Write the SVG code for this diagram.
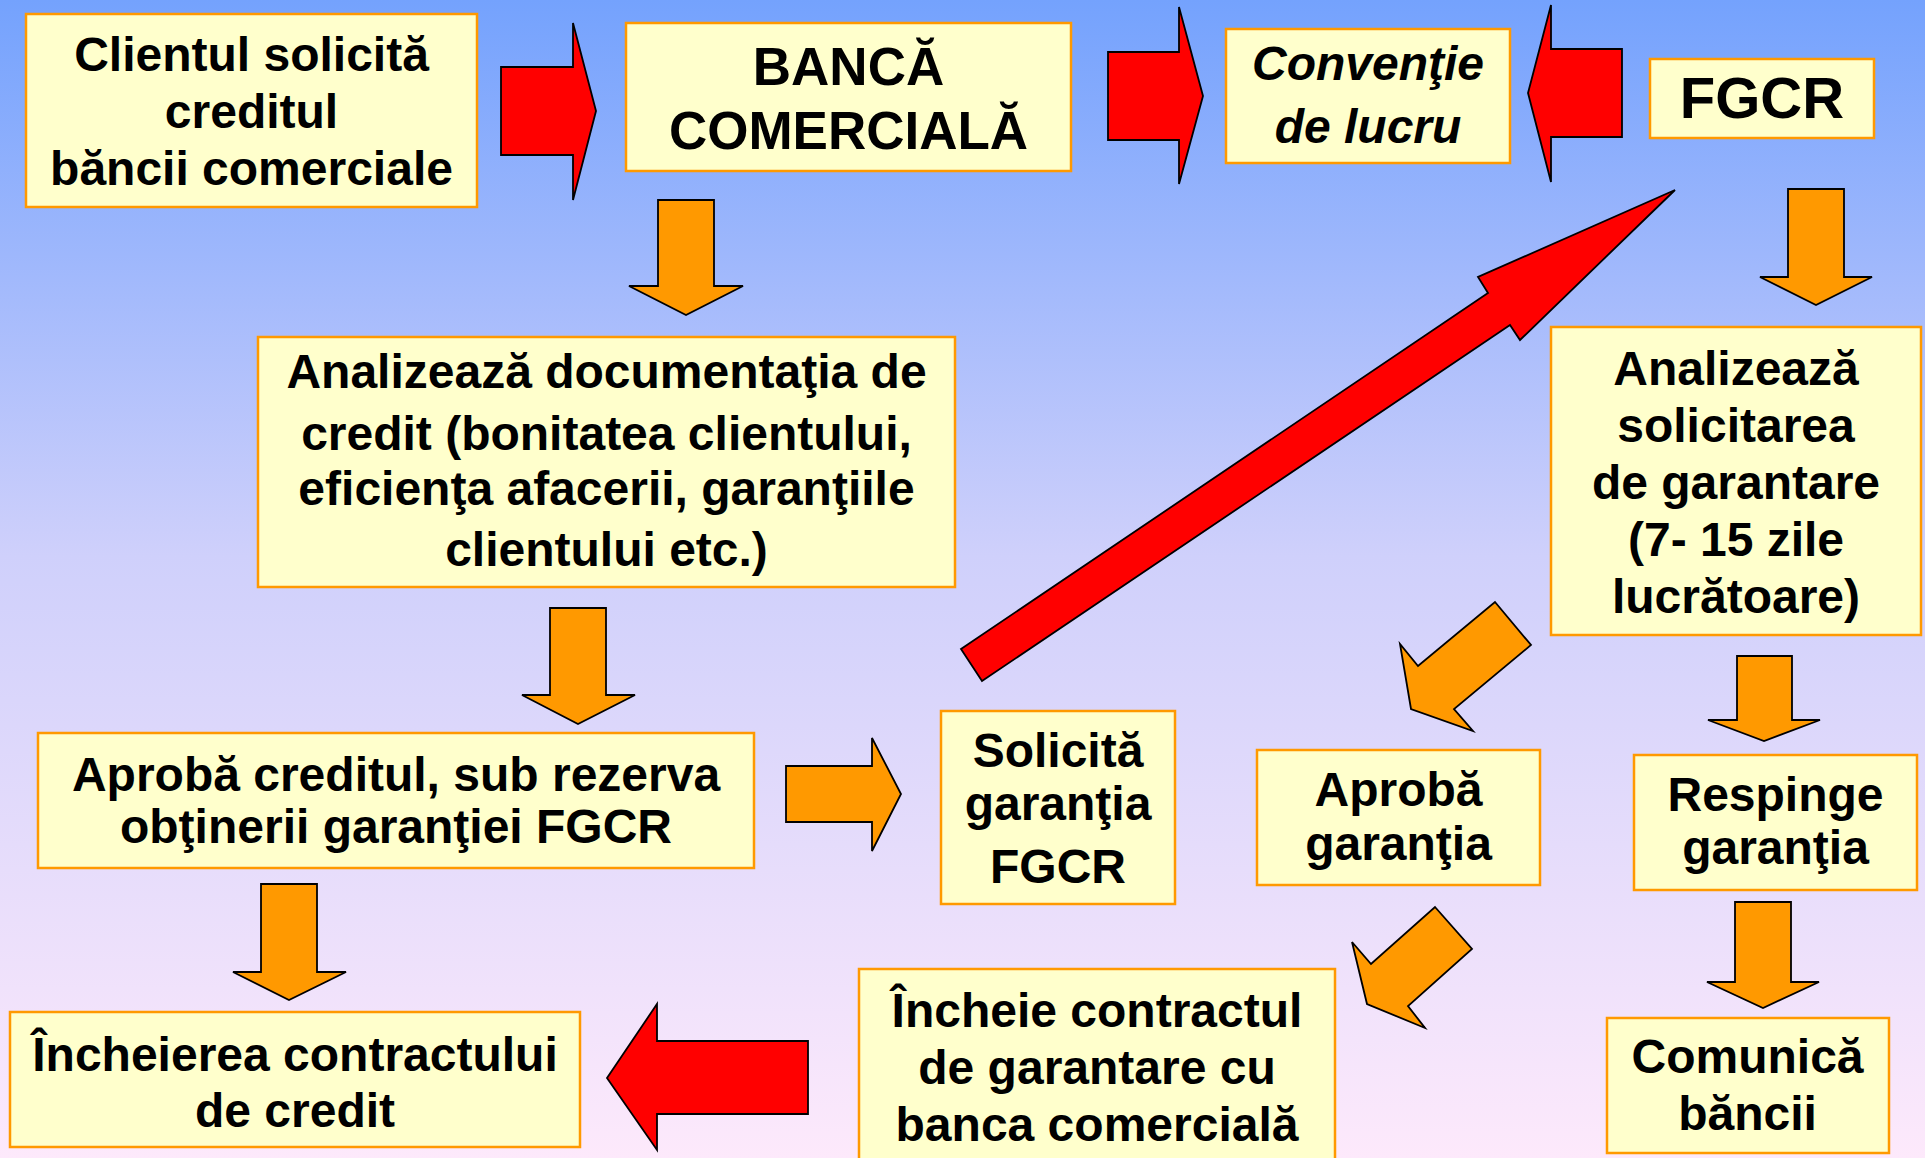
<svg xmlns="http://www.w3.org/2000/svg" width="1925" height="1158" viewBox="0 0 1925 1158">
<defs>
<linearGradient id="bg" x1="0" y1="0" x2="0" y2="1">
<stop offset="0" stop-color="#74A2FD"/>
<stop offset="0.48" stop-color="#CFD0FB"/>
<stop offset="1" stop-color="#FDE9FB"/>
</linearGradient>
<style>
.box{fill:#FFFFCC;stroke:#FF9900;stroke-width:2.5}
.t{font-family:"Liberation Sans",Arial,sans-serif;font-weight:bold;font-size:48px;fill:#000;text-anchor:middle}
.it{font-style:italic}
.red{fill:#FF0000;stroke:#000;stroke-width:1.8;stroke-linejoin:miter}
.org{fill:#FF9900;stroke:#000;stroke-width:1.8;stroke-linejoin:miter}
</style>
</defs>
<rect x="0" y="0" width="1925" height="1158" fill="url(#bg)"/>

<g id="connectors">
<polygon class="red" points="501,67 573,67 573,23 596,111 573,200 573,155 501,155"/>
<polygon class="red" points="1108,52 1179,52 1179,7 1203,96 1179,184 1179,140 1108,140"/>
<polygon class="red" points="1622,49 1551,49 1551,5 1528,93 1551,182 1551,137 1622,137"/>
<polygon class="red" points="961,649 1488,293 1478,277 1675,190 1520,340 1510,325 982,681"/>
<polygon class="red" points="808,1041 657,1041 657,1004 607,1078 657,1150 657,1114 808,1114"/>
<polygon class="org" points="658,200 714,200 714,286 743,286 686,315 629,286 658,286"/>
<polygon class="org" points="1788,189 1844,189 1844,277 1872,277 1816,305 1760,277 1788,277"/>
<polygon class="org" points="550,608 606,608 606,695 635,695 578,724 522,695 550,695"/>
<polygon class="org" points="786,766 872,766 872,738 901,794 872,851 872,822 786,822"/>
<polygon class="org" points="261,884 317,884 317,972 346,972 289,1000 233,972 261,972"/>
<polygon class="org" points="1737,656 1792,656 1792,720 1820,720 1764,741 1708,720 1737,720"/>
<polygon class="org" points="1735,902 1791,902 1791,982 1819,982 1763,1008 1707,982 1735,982"/>
<polygon class="org" points="1495,602 1531,645 1454,709 1473,731 1411,709 1400,644 1418,666"/>
<polygon class="org" points="1435,907 1472,949 1408,1006 1425,1028 1367,1004 1352,942 1371,964"/>
</g>

<g id="n-client">
<rect class="box" x="26" y="14" width="451" height="193"/>
<text class="t" x="251.5" y="71">Clientul solicită</text>
<text class="t" x="251.5" y="128">creditul</text>
<text class="t" x="251.5" y="185">băncii comerciale</text>
</g>
<g id="n-banca">
<rect class="box" x="626" y="23" width="445" height="148"/>
<text class="t" x="848.5" y="85" style="font-size:53px">BANCĂ</text>
<text class="t" x="848.5" y="149" style="font-size:53px">COMERCIALĂ</text>
</g>
<g id="n-conventie">
<rect class="box" x="1226" y="29" width="284" height="134"/>
<text class="t it" x="1368" y="80">Convenţie</text>
<text class="t it" x="1368" y="143">de lucru</text>
</g>
<g id="n-fgcr">
<rect class="box" x="1650" y="59" width="224" height="79"/>
<text class="t" x="1762" y="118" style="font-size:58px">FGCR</text>
</g>
<g id="n-analiza-doc">
<rect class="box" x="258" y="337" width="697" height="250"/>
<text class="t" x="606.5" y="388">Analizează documentaţia de</text>
<text class="t" x="606.5" y="450">credit (bonitatea clientului,</text>
<text class="t" x="606.5" y="505">eficienţa afacerii, garanţiile</text>
<text class="t" x="606.5" y="566">clientului etc.)</text>
</g>
<g id="n-analiza-sol">
<rect class="box" x="1551" y="327" width="370" height="308"/>
<text class="t" x="1736" y="385">Analizează</text>
<text class="t" x="1736" y="442">solicitarea</text>
<text class="t" x="1736" y="499">de garantare</text>
<text class="t" x="1736" y="556">(7- 15 zile</text>
<text class="t" x="1736" y="613">lucrătoare)</text>
</g>
<g id="n-aproba-credit">
<rect class="box" x="38" y="733" width="716" height="135"/>
<text class="t" x="396" y="791">Aprobă creditul, sub rezerva</text>
<text class="t" x="396" y="843">obţinerii garanţiei FGCR</text>
</g>
<g id="n-solicita">
<rect class="box" x="941" y="711" width="234" height="193"/>
<text class="t" x="1058" y="767">Solicită</text>
<text class="t" x="1058" y="820">garanţia</text>
<text class="t" x="1058" y="883">FGCR</text>
</g>
<g id="n-aproba-gar">
<rect class="box" x="1257" y="750" width="283" height="135"/>
<text class="t" x="1398.5" y="806">Aprobă</text>
<text class="t" x="1398.5" y="860">garanţia</text>
</g>
<g id="n-respinge">
<rect class="box" x="1634" y="755" width="283" height="135"/>
<text class="t" x="1775.5" y="811">Respinge</text>
<text class="t" x="1775.5" y="864">garanţia</text>
</g>
<g id="n-incheierea">
<rect class="box" x="10" y="1012" width="570" height="135"/>
<text class="t" x="295" y="1071">Încheierea contractului</text>
<text class="t" x="295" y="1127">de credit</text>
</g>
<g id="n-incheie">
<rect class="box" x="859" y="969" width="476" height="200"/>
<text class="t" x="1097" y="1027">Încheie contractul</text>
<text class="t" x="1097" y="1084">de garantare cu</text>
<text class="t" x="1097" y="1141">banca comercială</text>
</g>
<g id="n-comunica">
<rect class="box" x="1607" y="1018" width="282" height="135"/>
<text class="t" x="1747.5" y="1073">Comunică</text>
<text class="t" x="1747.5" y="1130">băncii</text>
</g>
</svg>
